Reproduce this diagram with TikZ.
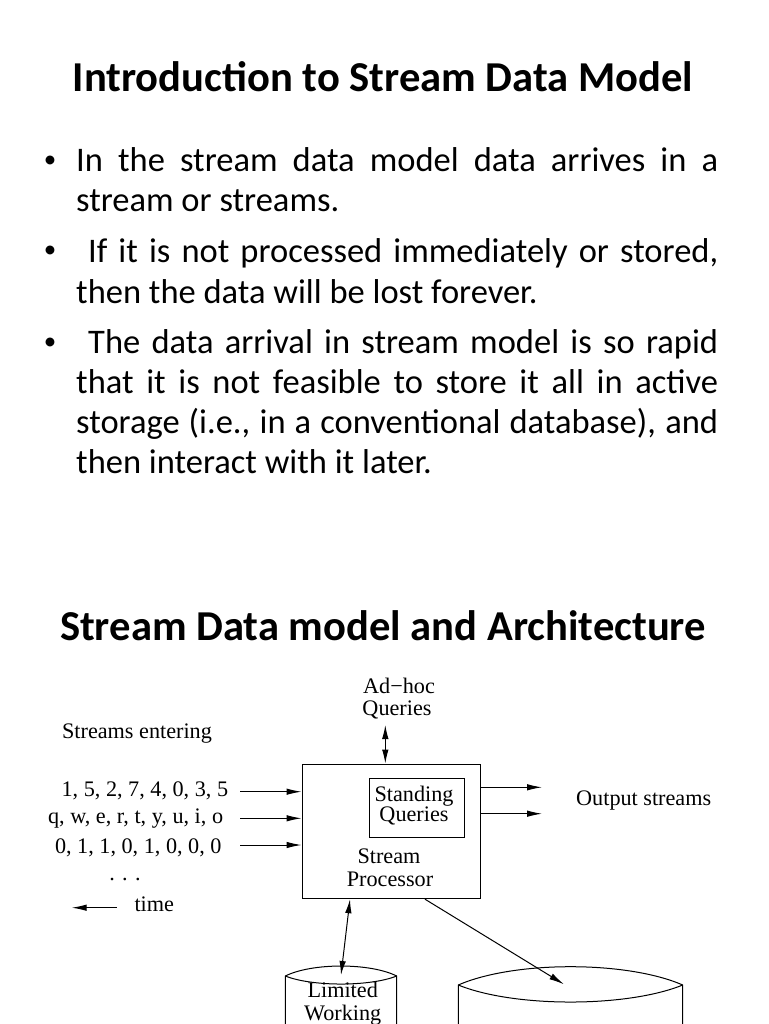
\documentclass[tikz,border=0pt]{standalone}
\usepackage{fontspec}
\setmainfont{Carlito}
\newfontfamily\dgfont{Liberation Serif}
\usetikzlibrary{arrows.meta}
\newcommand\jline[2]{\makebox[#1][s]{#2}}
\tikzset{
  body/.style={anchor=base west, inner sep=0pt, font=\fontsize{34.5}{41}\selectfont},
  bul/.style={anchor=base, inner sep=0pt, font=\fontsize{25}{30}\selectfont},
  ttl/.style={anchor=base, inner sep=0pt, font=\fontsize{42.6}{50}\selectfont\bfseries},
  dg/.style={anchor=base, inner sep=0pt, font=\dgfont\fontsize{22.2}{24}\selectfont},
  ln/.style={line width=1pt},
  arr/.style={ln, -{Latex[length=15pt,width=6.5pt]}},
  darr/.style={ln, {Latex[length=14pt,width=6.5pt]}-{Latex[length=14pt,width=6.5pt]}},
}
\begin{document}
\begin{tikzpicture}[x=1pt,y=-1pt]
\useasboundingbox (0,0) rectangle (768,1024);
\clip (0,0) rectangle (768,1024);
\fill[white] (0,0) rectangle (768,1024);

% ---- slide 1
\node[ttl] (t1) at (383,92) {Introduction to Stream Data Model};

\node[bul] (b1) at (50,168) {•};
\node[body] (l1) at (76,172) {\jline{642pt}{In the stream data model data arrives in a}};
\node[body] (l2) at (76,212) {stream or streams.};
\node[bul] (b2) at (50,258) {•};
\node[body] (l3) at (88,262) {\jline{630pt}{If it is not processed immediately or stored,}};
\node[body] (l4) at (76,303) {then the data will be lost forever.};
\node[bul] (b3) at (50,349) {•};
\node[body] (l5) at (88,353) {\jline{630pt}{The data arrival in stream model is so rapid}};
\node[body] (l6) at (76,393) {\jline{642pt}{that it is not feasible to store it all in active}};
\node[body] (l7) at (76,433) {\jline{642pt}{storage (i.e., in a conventional database), and}};
\node[body] (l8) at (76,473) {then interact with it later.};

% ---- slide 2
\node[ttl] (t2) at (383,640) {Stream Data model and Architecture};

% processor box
\node[draw, ln, inner sep=0pt, minimum width=178.5pt, minimum height=134.7pt] (sp) at (391.25,831.35) {};
\node[draw, ln, inner sep=0pt, minimum width=95pt, minimum height=59pt] (sq) at (416.5,807.5) {};
\node[dg] (sq1) at (414,801.7) {Standing};
\node[dg] (sq2) at (414,821.7) {Queries};
\node[dg] (sp1) at (389,863) {Stream};
\node[dg] (sp2) at (390,886) {Processor};

% ad-hoc
\node[dg] (ah1) at (399,693) {Ad−hoc};
\node[dg] (ah2) at (397,715) {Queries};
\coordinate (aq) at (385.3,725);
\draw[darr] (aq) -- (aq |- sp.north);

% inputs
\node[dg] (se) at (137,738) {Streams entering};
\node[dg, anchor=base east] (s1) at (228.3,796.7) {1, 5, 2, 7, 4, 0, 3, 5};
\node[dg, anchor=base east] (s2) at (223.3,823.3) {q, w, e, r, t, y, u, i, o};
\node[dg, anchor=base east] (s3) at (221.7,853.3) {0, 1, 1, 0, 1, 0, 0, 0};
\node[dg] (dots) at (125,880.7) {. . .};
\coordinate (i1) at (240,791.7);
\coordinate (i2) at (240,818.3);
\coordinate (i3) at (240,845);
\draw[arr] (i1) -- (i1 -| sp.west);
\draw[arr] (i2) -- (i2 -| sp.west);
\draw[arr] (i3) -- (i3 -| sp.west);
\coordinate (ta) at (116.7,907.7);
\coordinate (tb) at (71.7,907.7);
\draw[arr] (ta) -- (tb);
\node[dg, anchor=base west] (tm) at (134.3,911.7) {time};

% outputs
\coordinate (o1) at (542,787.3);
\coordinate (o2) at (542,813.7);
\draw[arr] (o1 -| sp.east) -- (o1);
\draw[arr] (o2 -| sp.east) -- (o2);
\node[dg, anchor=base west] (os) at (576,805.7) {Output streams};

% limited working storage
\coordinate (wb) at (350,0);
\coordinate (lw) at (341,975);
\draw[darr] (wb |- sp.south) -- (lw);
\draw[ln] (285.3,1030) -- (285.3,976) .. controls (312,962.7) and (370,962.7) .. (396.7,976) -- (396.7,1030);
\draw[ln] (285.3,976) .. controls (312,986.7) and (370,986.7) .. (396.7,976);
\node[dg] (lw1) at (342.7,997) {Limited};
\node[dg] (lw2) at (342.7,1020) {Working};

% archival storage
\coordinate (da) at (425,0);
\coordinate (db) at (564,984.3);
\draw[arr] (da |- sp.south) -- (db);
\draw[ln] (458.3,1030) -- (458.3,985) .. controls (514,960.6) and (627,960.6) .. (682.7,985) -- (682.7,1030);
\draw[ln] (458.3,985) .. controls (514,1007.7) and (627,1007.7) .. (682.7,985);
\end{tikzpicture}
\end{document}
